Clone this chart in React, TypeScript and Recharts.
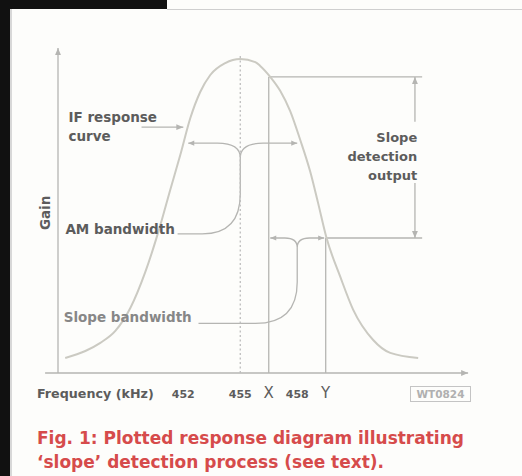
import React from 'react';
import { ComposedChart, Line, XAxis, YAxis, ReferenceLine, ReferenceArea, ReferenceDot } from 'recharts';

// IF response curve (frequency in kHz, gain in % of peak)
const freqKHz = [445.78, 446.84, 447.63, 448.42, 449.21, 450.0, 450.79, 451.31, 451.84, 452.37, 452.89, 453.42, 454.21, 455.0, 455.79, 456.05, 456.58, 457.11, 457.63, 458.16, 458.69, 459.1, 459.53, 460.27, 460.95, 462.0, 462.9, 464.37];
const gainPct = [4.8, 7.0, 9.6, 13.4, 20.7, 32.2, 47.1, 58.3, 69.4, 81.2, 89.5, 94.9, 98.7, 100, 99.0, 97.8, 94.3, 89.8, 83.4, 74.2, 64.0, 54.1, 43.3, 30.6, 20.1, 10.5, 6.4, 4.8];

// marks under the frequency axis
const tickFreqs = [452, 455, 456.5, 458, 459.5];
const tickLabels = ['452', '455', 'X', '458', 'Y'];

// operating points of the slope detector
const centreFreq = 455;
const freqX = 456.5;
const gainX = 94.3;
const freqY = 459.5;
const gainY = 43;

// where the AM bandwidth arrow meets the curve
const amEdges = [452.26, 458.0];
const amGain = 73.2;

const data = freqKHz.map((f, i) => ({ f, gain: gainPct[i] }));

const LINE = '#b5b5b2';
const TEXT = '#5c5c5c';
const FONT = '"DejaVu Sans", sans-serif';

const headPath = (x1: number, y1: number, x2: number, y2: number, size = 7) => {
  const a = Math.atan2(y2 - y1, x2 - x1);
  const w = size * 0.42;
  const bx = x2 - size * Math.cos(a);
  const by = y2 - size * Math.sin(a);
  return `M${x2},${y2} L${bx + w * Math.sin(a)},${by - w * Math.cos(a)} L${bx - w * Math.sin(a)},${by + w * Math.cos(a)} Z`;
};

// line with an arrow head at its second point
const ArrowLine = (p: any) => (
  <g>
    <line x1={p.x1} y1={p.y1} x2={p.x2} y2={p.y2} stroke={LINE} strokeWidth={1.3} />
    <path d={headPath(p.x1, p.y1, p.x2, p.y2)} fill={LINE} />
  </g>
);

// draw inside a reference area, with data -> pixel maps taken from its rect
const inBox = (bx: number[], by: number[], draw: (sx: (v: number) => number, sy: (v: number) => number) => React.ReactNode) => (p: any) => {
  const sx = (v: number) => p.x + ((v - bx[0]) / (bx[1] - bx[0])) * p.width;
  const sy = (v: number) => p.y + p.height - ((v - by[0]) / (by[1] - by[0])) * p.height;
  return <g>{draw(sx, sy)}</g>;
};

// double arrow with a curly bracket stem leading down-left to its label
const bracket = (tips: number[], tipGain: number, joint: number, jointGain: number, arm: number, bendGain: number, endF: number, endGain: number, bend: number) =>
  (sx: (v: number) => number, sy: (v: number) => number) => {
    const xl = sx(tips[0]);
    const xr = sx(tips[1]);
    const yt = sy(tipGain);
    const xj = sx(joint);
    const yj = sy(jointGain);
    const d =
      `M${xl},${yt} L${sx(joint - arm)},${yt} Q${xj},${yt} ${xj},${yj} ` +
      `M${xr},${yt} L${sx(joint + arm)},${yt} Q${xj},${yt} ${xj},${yj} ` +
      `M${xj},${yj} L${xj},${sy(bendGain)} Q${xj},${sy(endGain)} ${sx(joint - bend)},${sy(endGain)} L${sx(endF)},${sy(endGain)}`;
    return (
      <>
        <path d={d} fill="none" stroke={LINE} strokeWidth={1.3} />
        <path d={headPath(xl + 8, yt, xl, yt, 6)} fill={LINE} />
        <path d={headPath(xr - 8, yt, xr, yt, 6)} fill={LINE} />
      </>
    );
  };

const textShape = (lines: string[], opts: { anchor?: string; size?: number; color?: string; lh?: number } = {}) => (p: any) => (
  <text x={p.cx} y={p.cy} textAnchor={opts.anchor || 'start'} fontSize={opts.size || 13.5} fontWeight="bold" fill={opts.color || TEXT} fontFamily={FONT}>
    {lines.map((l, i) => (
      <tspan key={i} x={p.cx} dy={i ? opts.lh || 19 : 0}>{l}</tspan>
    ))}
  </text>
);

const FreqTick = (p: any) => {
  const i = tickFreqs.indexOf(p.payload.value);
  const label = tickLabels[i];
  const letter = label === 'X' || label === 'Y';
  return (
    <text x={p.x} y={p.y + 17} textAnchor="middle" fontSize={letter ? 15 : 11} fontWeight={letter ? 'normal' : 'bold'} fill={TEXT} fontFamily={FONT}>
      {label}
    </text>
  );
};

export default function App() {
  return (
    <div style={{ position: 'absolute', left: 0, top: 0, width: 522, height: 476, background: '#fdfdfb', overflow: 'hidden' }}>
      <div style={{ position: 'absolute', left: 0, top: 0, width: 10, height: 476, background: '#111' }} />
      <div style={{ position: 'absolute', left: 0, top: 0, width: 167, height: 9, background: '#111' }} />
      <div style={{ position: 'absolute', left: 167, top: 9, width: 355, height: 1, background: '#cfcfcf' }} />
      <div style={{ position: 'absolute', left: 10, top: 9, width: 2, height: 467, background: '#d8d8d8' }} />

      <div style={{ position: 'absolute', left: 0, top: 0 }}>
        <ComposedChart width={522} height={476} data={data} margin={{ top: 48, right: 52, bottom: 83, left: 58 }}>
          <XAxis
            type="number"
            dataKey="f"
            domain={[445.4, 467.1]}
            allowDataOverflow
            ticks={tickFreqs}
            interval={0}
            tickLine={false}
            axisLine={false}
            height={20}
            tick={<FreqTick />}
            label={{
              content: (lp: any) => (
                <text x={lp.viewBox.x - 21} y={lp.viewBox.y + 25} fontSize={12.7} fontWeight="bold" fill={TEXT} fontFamily={FONT}>
                  Frequency (kHz)
                </text>
              ),
            }}
          />
          <YAxis hide type="number" domain={[0, 103.5]} allowDataOverflow />

          {/* axes with arrow heads */}
          <ReferenceLine segment={[{ x: 444.72, y: 0 }, { x: 467.0, y: 0 }]} ifOverflow="visible" shape={ArrowLine} />
          <ReferenceLine segment={[{ x: 445.4, y: 0 }, { x: 445.4, y: 103.5 }]} ifOverflow="visible" shape={ArrowLine} />

          {/* centre frequency and operating points */}
          <ReferenceLine segment={[{ x: centreFreq, y: 0 }, { x: centreFreq, y: 101.5 }]} stroke="#bdbdbd" strokeWidth={1.3} strokeDasharray="2 2.5" />
          <ReferenceLine segment={[{ x: freqX, y: 0 }, { x: freqX, y: gainX }]} stroke={LINE} strokeWidth={1.3} />
          <ReferenceLine segment={[{ x: freqY, y: 0 }, { x: freqY, y: gainY }]} stroke={LINE} strokeWidth={1.3} />
          <ReferenceLine segment={[{ x: freqX, y: gainX }, { x: 464.58, y: gainX }]} stroke={LINE} strokeWidth={1.3} />
          <ReferenceLine segment={[{ x: freqY, y: gainY }, { x: 464.58, y: gainY }]} stroke={LINE} strokeWidth={1.3} />

          {/* slope detection output arrow */}
          <ReferenceLine segment={[{ x: 464.2, y: 80 }, { x: 464.2, y: gainX }]} shape={ArrowLine} />
          <ReferenceLine segment={[{ x: 464.2, y: 60.5 }, { x: 464.2, y: gainY }]} shape={ArrowLine} />

          {/* IF response pointer */}
          <ReferenceLine segment={[{ x: 449.8, y: 78.3 }, { x: 452.0, y: 78.3 }]} shape={ArrowLine} />

          {/* AM bandwidth bracket */}
          <ReferenceArea
            x1={451.7}
            x2={amEdges[1]}
            y1={44.3}
            y2={amGain}
            ifOverflow="visible"
            shape={inBox([451.7, amEdges[1]], [44.3, amGain], bracket(amEdges, amGain, centreFreq, 68.5, 1.2, 57, 451.7, 44.3, 2.0))}
          />
          {/* slope bandwidth bracket */}
          <ReferenceArea
            x1={452.8}
            x2={459.42}
            y1={15.8}
            y2={gainY}
            ifOverflow="visible"
            shape={inBox([452.8, 459.42], [15.8, gainY], bracket([456.58, 459.42], gainY, 458.0, 40.0, 0.65, 29, 452.8, 15.8, 2.2))}
          />

          <Line type="monotone" dataKey="gain" stroke="#cbcac2" strokeWidth={2} dot={false} isAnimationActive={false} />

          {/* labels */}
          <ReferenceDot x={445.95} y={79.9} ifOverflow="visible" shape={textShape(['IF response', 'curve'])} />
          <ReferenceDot x={445.79} y={44.3} ifOverflow="visible" shape={textShape(['AM bandwidth'])} />
          <ReferenceDot x={445.7} y={16.2} ifOverflow="visible" shape={textShape(['Slope bandwidth'], { color: '#878787' })} />
          <ReferenceDot x={464.32} y={73.6} ifOverflow="visible" shape={textShape(['Slope', 'detection', 'output'], { anchor: 'end', size: 13 })} />
          <ReferenceDot
            x={444.72}
            y={51}
            ifOverflow="visible"
            shape={(p: any) => (
              <text x={p.cx} y={p.cy} transform={`rotate(-90 ${p.cx} ${p.cy})`} textAnchor="middle" dominantBaseline="central" fontSize={13.5} fontWeight="bold" fill={TEXT} fontFamily={FONT}>
                Gain
              </text>
            )}
          />
        </ComposedChart>
      </div>

      <div
        style={{
          position: 'absolute',
          left: 410,
          top: 386,
          width: 59,
          height: 14,
          border: '1px solid #c4c4c4',
          color: '#b0b0b0',
          fontFamily: FONT,
          fontWeight: 'bold',
          fontSize: 10.5,
          lineHeight: '14px',
          textAlign: 'center',
        }}
      >
        WT0824
      </div>
      <div
        style={{
          position: 'absolute',
          left: 37,
          top: 426,
          width: 480,
          color: '#d64b4b',
          fontFamily: FONT,
          fontWeight: 'bold',
          fontSize: 17,
          lineHeight: '24px',
          whiteSpace: 'nowrap',
        }}
      >
        Fig. 1: Plotted response diagram illustrating
        <br />
        ‘slope’ detection process (see text).
      </div>
    </div>
  );
}
